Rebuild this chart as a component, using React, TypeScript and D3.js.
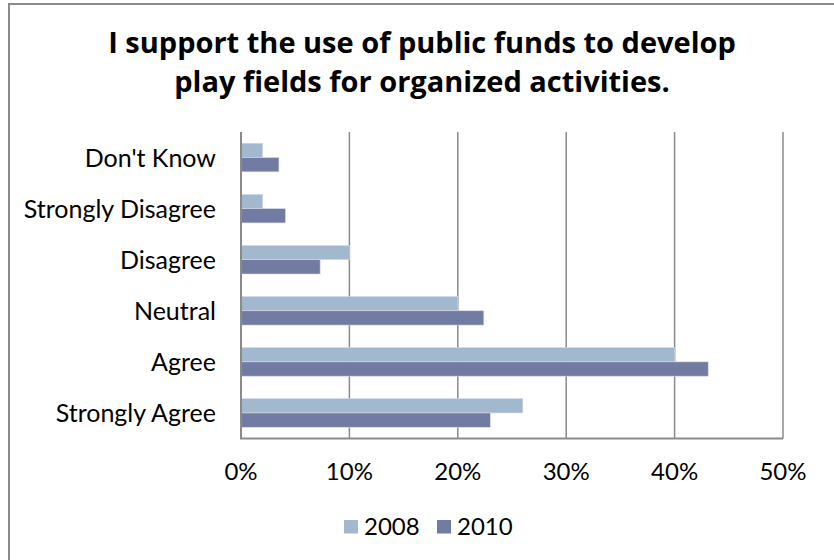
import React from "react";
import * as d3 from "d3";

const categories = ["Don't Know", "Strongly Disagree", "Disagree", "Neutral", "Agree", "Strongly Agree"];
const seriesNames = ["2008", "2010"];
const values2008 = [2.0, 2.0, 10.0, 20.0, 40.0, 26.0];
const values2010 = [3.5, 4.1, 7.3, 22.4, 43.1, 23.0];
const xTicks = [0, 10, 20, 30, 40, 50];
const colors = ["#A2B8CE", "#727BA1"];
const titleLines = ["I support the use of public funds to develop", "play fields for organized activities."];

const W = 834;
const H = 560;
const FONT = "Lato, 'Open Sans', sans-serif";
const TITLE_FONT = "'Open Sans', Lato, sans-serif";

export default function App() {
  const left = 241;
  const right = 783;
  const top = 132;
  const bottom = 438.5;

  const x = d3.scaleLinear().domain([0, 50]).range([left, right]);
  const y = d3.scaleBand().domain(categories).range([top, bottom]).paddingInner(0.44).paddingOuter(0.22);
  const ySub = d3.scaleBand().domain(seriesNames).range([0, y.bandwidth()]);
  const series = [values2008, values2010];

  return (
    <svg width={W} height={H} style={{ position: "absolute", left: 0, top: 0, background: "#fff" }}>
      <rect x={9} y={4} width={840} height={H + 20} fill="#fff" stroke="#8c8c8c" strokeWidth={2} />
      {titleLines.map((t, i) => (
        <text key={i} x={422} y={53 + i * 39} textAnchor="middle" fontFamily={TITLE_FONT} fontWeight="bold" fontSize={29} fill="#000">
          {t}
        </text>
      ))}
      {/* gridlines */}
      {xTicks.slice(1).map((t) => (
        <line key={t} x1={x(t)} x2={x(t)} y1={top} y2={bottom} stroke="#8a8a8a" strokeWidth={1.5} />
      ))}
      {/* bars */}
      {categories.map((c, ci) => (
        <g key={c}>
          {series.map((vals, si) => (
            <rect
              key={si}
              x={x(0)}
              y={(y(c) as number) + (ySub(seriesNames[si]) as number)}
              width={x(vals[ci]) - x(0)}
              height={ySub.bandwidth()}
              fill={colors[si]}
              stroke="#d6dbe8"
              strokeWidth={0.6}
            />
          ))}
        </g>
      ))}
      {/* axes */}
      <line x1={left} x2={left} y1={top} y2={bottom} stroke="#8a8a8a" strokeWidth={2} />
      <line x1={left - 1} x2={right} y1={bottom} y2={bottom} stroke="#8a8a8a" strokeWidth={2} />
      {/* category labels */}
      {categories.map((c) => (
        <text key={c} x={216} y={(y(c) as number) + y.bandwidth() / 2} dy="0.36em" textAnchor="end" fontFamily={FONT} fontSize={25} fill="#000">
          {c}
        </text>
      ))}
      {/* x tick labels */}
      {xTicks.map((t) => (
        <text key={t} x={x(t)} y={480} textAnchor="middle" fontFamily={FONT} fontSize={24} fill="#000">
          {t + "%"}
        </text>
      ))}
      {/* legend */}
      {seriesNames.map((s, i) => (
        <g key={s} transform={`translate(${344 + i * 93},520)`}>
          <rect width={14} height={13.5} fill={colors[i]} />
          <text x={20} y={15} fontFamily={FONT} fontSize={24} fill="#000">
            {s}
          </text>
        </g>
      ))}
    </svg>
  );
}
